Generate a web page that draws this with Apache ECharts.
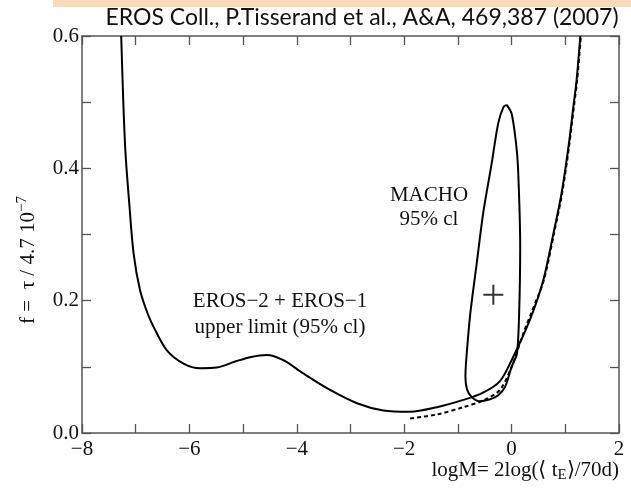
<!DOCTYPE html>
<html>
<head>
<meta charset="utf-8">
<script src="https://cdn.jsdelivr.net/npm/echarts@6/dist/echarts.min.js"></script>
<style>
  html, body { margin: 0; padding: 0; background: #fff; }
  #main { width: 631px; height: 492px; }
</style>
</head>
<body>
<div id="main"></div>
<script>
// EROS-2 + EROS-1 upper limit (95% cl), [logM, f]
var erosLimit = [
  [-7.27, 0.60], [-7.23, 0.498], [-7.19, 0.423], [-7.12, 0.347], [-7.04, 0.272],
  [-6.92, 0.216], [-6.78, 0.181], [-6.64, 0.156], [-6.42, 0.125], [-6.11, 0.105],
  [-5.80, 0.098], [-5.49, 0.099], [-5.15, 0.108], [-4.85, 0.115], [-4.56, 0.118],
  [-4.25, 0.110], [-3.88, 0.090], [-3.38, 0.065], [-2.88, 0.045], [-2.39, 0.034],
  [-1.89, 0.032], [-1.39, 0.039], [-0.90, 0.050], [-0.53, 0.061], [-0.22, 0.078],
  [0.0, 0.110], [0.34, 0.171], [0.59, 0.231], [0.78, 0.302], [0.93, 0.362],
  [1.06, 0.433], [1.15, 0.493], [1.21, 0.533], [1.28, 0.60]
];
// dashed limit curve
var erosDashed = [
  [-1.89, 0.022], [-1.39, 0.028], [-0.90, 0.039], [-0.53, 0.049], [-0.22, 0.065],
  [0.0, 0.100], [0.22, 0.151], [0.36, 0.180], [0.60, 0.231], [0.79, 0.302],
  [0.94, 0.362], [1.07, 0.433], [1.16, 0.493], [1.22, 0.533], [1.29, 0.60]
];
// MACHO 95% cl contour (closed)
var machoContour = [
  [-0.09, 0.496], [0.0, 0.483], [0.08, 0.44], [0.12, 0.40], [0.16, 0.28],
  [0.14, 0.18], [0.10, 0.12], [0.0, 0.10], [-0.12, 0.07], [-0.25, 0.057],
  [-0.40, 0.051], [-0.60, 0.048], [-0.74, 0.054], [-0.83, 0.066], [-0.86, 0.085],
  [-0.85, 0.105], [-0.77, 0.18], [-0.65, 0.256], [-0.53, 0.332], [-0.37, 0.408],
  [-0.25, 0.468], [-0.15, 0.493], [-0.09, 0.496]
];
// MACHO best fit
var machoBest = [[-0.34, 0.209]];

var xTicks = { min: -8, max: 2, step: 1 };
var yTicks = { min: 0, max: 0.6, step: 0.1 };

var serif = "Liberation Serif";
var axisColor = "#555";

function xLabel(v) {
  return Math.round(v) % 2 === 0 ? String(v).replace("-", "\u2212") : "";
}
function yLabel(v) {
  return Math.round(v * 10) % 2 === 0 ? v.toFixed(1) : "";
}

function xAxisCfg(pos, showLabel) {
  return {
    type: "value", position: pos,
    min: xTicks.min, max: xTicks.max, interval: xTicks.step,
    axisLine: { show: true, onZero: false, lineStyle: { color: axisColor, width: 1.5 } },
    axisTick: { show: true, inside: true, length: 9, lineStyle: { color: axisColor, width: 1.3 } },
    axisLabel: { show: showLabel, formatter: xLabel, margin: 6, fontFamily: serif, fontSize: 21, color: "#111" },
    splitLine: { show: false }
  };
}
function yAxisCfg(pos, showLabel) {
  return {
    type: "value", position: pos,
    min: yTicks.min, max: yTicks.max, interval: yTicks.step,
    axisLine: { show: true, onZero: false, lineStyle: { color: axisColor, width: 1.5 } },
    axisTick: { show: true, inside: true, length: 9, lineStyle: { color: axisColor, width: 1.3 } },
    axisLabel: { show: showLabel, formatter: yLabel, margin: 3, fontFamily: serif, fontSize: 21, color: "#111" },
    splitLine: { show: false }
  };
}

var chart = echarts.init(document.getElementById("main"), null, { renderer: "canvas" });

var option = {
  backgroundColor: "#fff",
  animation: false,
  grid: { left: 82, right: 12, top: 36, bottom: 59 },
  xAxis: [xAxisCfg("bottom", true), xAxisCfg("top", false)],
  yAxis: [yAxisCfg("left", true), yAxisCfg("right", false)],
  series: [
    {
      type: "line", name: "EROS limit", data: erosLimit, smooth: 0.3,
      showSymbol: false, lineStyle: { color: "#000", width: 2 }
    },
    {
      type: "line", name: "EROS dashed", data: erosDashed, smooth: 0.3,
      showSymbol: false, lineStyle: { color: "#000", width: 2, type: [4, 3] }
    },
    {
      type: "line", name: "MACHO", data: machoContour, smooth: 0.25,
      showSymbol: false, lineStyle: { color: "#000", width: 2 }
    },
    {
      type: "scatter", name: "MACHO best", data: machoBest,
      symbol: "path://M9,0h2v9h9v2h-9v9h-2v-9h-9v-2h9z", symbolSize: 20,
      itemStyle: { color: "#000" }
    }
  ],
  graphic: [
    // peach band at the top of the slide
    { type: "rect", left: 53, top: 0, shape: { width: 578, height: 7 }, style: { fill: "#fbdbbd" } },
    {
      type: "text", x: 362, y: 18,
      style: {
        text: "EROS Coll., P.Tisserand et al., A&A, 469,387 (2007)",
        font: "23px Lato", fill: "#111", align: "center", verticalAlign: "middle"
      }
    },
    {
      type: "text", x: 429, y: 207,
      style: { text: "MACHO\n95% cl", font: "21px " + serif, lineHeight: 24, fill: "#111", align: "center", verticalAlign: "middle" }
    },
    {
      type: "text", x: 280, y: 314,
      style: { text: "EROS\u22122 + EROS\u22121\nupper limit (95% cl)", font: "21px " + serif, lineHeight: 26, fill: "#111", align: "center", verticalAlign: "middle" }
    },
    {
      type: "text", x: 619, y: 470,
      style: {
        text: "logM= 2log(\u27e8 t{sub|E}\u27e9/70d)",
        font: "21px " + serif, fill: "#111", align: "right", verticalAlign: "middle",
        rich: {
          sub: { fontFamily: serif, fontSize: 15, padding: [10, 0, 0, 0], fill: "#111" }
        }
      }
    },
    {
      type: "text", x: 28, y: 260, rotation: Math.PI / 2,
      style: {
        text: "f =  \u03c4 / 4.7 10{sup|\u22127}",
        font: "21px " + serif, fill: "#111", align: "center", verticalAlign: "middle",
        rich: {
          sup: { fontFamily: serif, fontSize: 15, padding: [0, 0, 12, 0], fill: "#111" }
        }
      }
    }
  ]
};

chart.setOption(option);
</script>
</body>
</html>
